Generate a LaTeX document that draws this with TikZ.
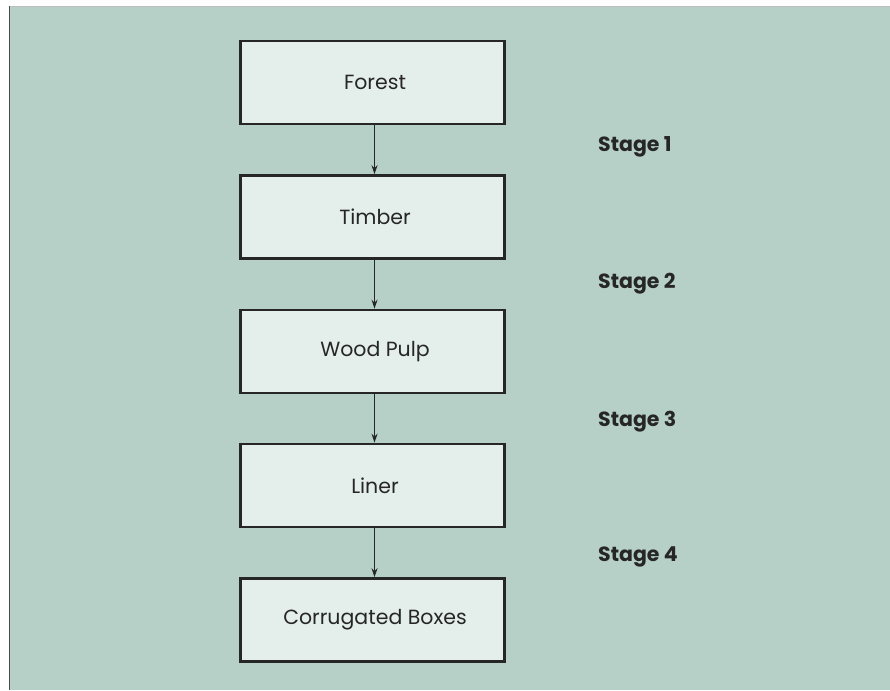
\documentclass[tikz,border=0pt]{standalone}
\usepackage{fontspec}
\setmainfont{Poppins}
\usetikzlibrary{arrows.meta}
\definecolor{panel}{HTML}{B6D0C7}
\definecolor{boxfill}{HTML}{E4EEEB}
\definecolor{ink}{HTML}{262626}
\tikzset{
  stepbox/.style={draw=ink, line width=2.6pt, fill=boxfill, minimum width=264pt, minimum height=83pt, inner sep=0pt, text=ink, font=\fontsize{20.5}{24}\selectfont},
  stagelabel/.style={anchor=west, inner sep=0pt, text=ink, font=\fontsize{20.5}{24}\selectfont\bfseries},
  flow/.style={draw=ink, line width=1pt, -{Stealth[length=9pt,width=6pt]}}
}
\begin{document}
\begin{tikzpicture}[x=1pt,y=-1pt]
\useasboundingbox (0,0) rectangle (890,690);
\fill[white] (0,0) rectangle (890,690);
\fill[panel] (9.5,6.5) rectangle (890,690);
\draw[line width=1pt, draw=black!70] (9.5,690) -- (9.5,6.5);
\draw[line width=1pt, draw=black!25] (9.5,6.5) -- (890,6.5);
\node[stepbox] (forest) at (372.5,82.5) {\hspace*{5pt}Forest};
\node[stepbox] (timber) at (372.5,217) {\hspace*{5pt}Timber};
\node[stepbox] (pulp) at (372.5,351.5) {\hspace*{5pt}Wood Pulp};
\node[stepbox] (liner) at (372.5,485.5) {\hspace*{5pt}Liner};
\node[stepbox] (boxes) at (372.5,620) {\hspace*{5pt}Corrugated Boxes};
\draw[flow] ([xshift=2pt]forest.south) -- ([xshift=2pt]timber.north);
\draw[flow] ([xshift=2pt]timber.south) -- ([xshift=2pt]pulp.north);
\draw[flow] ([xshift=2pt]pulp.south) -- ([xshift=2pt]liner.north);
\draw[flow] ([xshift=2pt]liner.south) -- ([xshift=2pt]boxes.north);
\node[stagelabel] (s1) at (598,147) {Stage 1};
\node[stagelabel] (s2) at (598,284) {Stage 2};
\node[stagelabel] (s3) at (598,422) {Stage 3};
\node[stagelabel] (s4) at (598,557) {Stage 4};
\end{tikzpicture}
\end{document}
